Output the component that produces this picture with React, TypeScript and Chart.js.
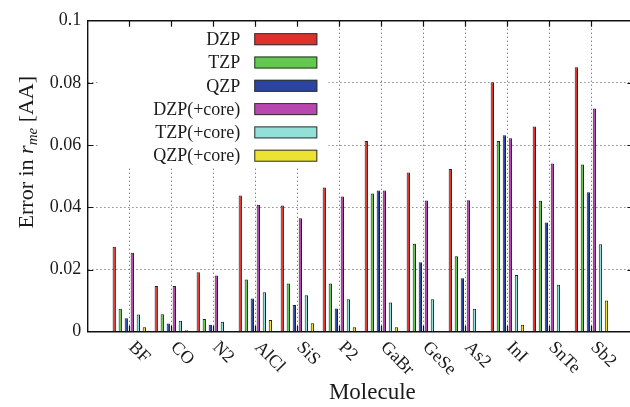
import React, { useEffect, useRef } from 'react';
import { Chart, registerables } from 'chart.js';
Chart.register(...registerables);

const molecules = ['BF', 'CO', 'N2', 'AlCl', 'SiS', 'P2', 'GaBr', 'GeSe', 'As2', 'InI', 'SnTe', 'Sb2'];
const seriesNames = ['DZP', 'TZP', 'QZP', 'DZP(+core)', 'TZP(+core)', 'QZP(+core)'];
const dzp = [0.0273, 0.0147, 0.0191, 0.0438, 0.0406, 0.0464, 0.0613, 0.0512, 0.0523, 0.0802, 0.066, 0.085];
const tzp = [0.0074, 0.0056, 0.0041, 0.0168, 0.0155, 0.0155, 0.0444, 0.0283, 0.0243, 0.0613, 0.0421, 0.0538];
const qzp = [0.0043, 0.0026, 0.0022, 0.0107, 0.0086, 0.0075, 0.0454, 0.0223, 0.0172, 0.0632, 0.0351, 0.0448];
const dzpCore = [0.0254, 0.0147, 0.0181, 0.0408, 0.0365, 0.0435, 0.0454, 0.0422, 0.0423, 0.0622, 0.0541, 0.0718];
const tzpCore = [0.0055, 0.0035, 0.0032, 0.0127, 0.0117, 0.0104, 0.0094, 0.0104, 0.0074, 0.0182, 0.0151, 0.0281];
const qzpCore = [0.0014, 0.0005, 0.0002, 0.0038, 0.0027, 0.0014, 0.0014, 0.0003, 0.0001, 0.0022, 0.0002, 0.01];
const yTicks = [0, 0.02, 0.04, 0.06, 0.08, 0.1];
const yTickLabels = ['0', '0.02', '0.04', '0.06', '0.08', '0.1'];
const colors = ['#e0302a', '#62c850', '#2a44a0', '#b848b0', '#92e0d8', '#ece232'];

const FONT = '"Liberation Serif", "DejaVu Serif", serif';

const overlay = {
  id: 'overlay',
  afterDatasetsDraw(chart: any) {
    const { ctx, chartArea: a, scales } = chart;
    const x = scales.x;
    const y = scales.y;
    ctx.save();
    // opaque legend background
    ctx.fillStyle = '#ffffff';
    ctx.fillRect(a.left + 12, a.top + 1, 241 - 12, 145);
    // legend entries
    ctx.font = `18px ${FONT}`;
    ctx.textAlign = 'right';
    ctx.textBaseline = 'middle';
    seriesNames.forEach((name, i) => {
      const cy = a.top + 18.5 + i * 23.3;
      ctx.fillStyle = '#1a1a1a';
      ctx.fillText(name, a.left + 153, cy + 1);
      ctx.fillStyle = colors[i];
      ctx.fillRect(a.left + 167, cy - 6, 63, 12);
      ctx.strokeStyle = '#333';
      ctx.lineWidth = 1;
      ctx.strokeRect(a.left + 167.5, cy - 5.5, 62, 11);
    });
    // inward tick marks
    ctx.strokeStyle = '#111';
    ctx.lineWidth = 1.2;
    ctx.beginPath();
    molecules.forEach((_, i) => {
      const px = Math.round(x.getPixelForValue(i + 1)) + 0.5;
      ctx.moveTo(px, a.top);
      ctx.lineTo(px, a.top + 6);
      ctx.moveTo(px, a.bottom);
      ctx.lineTo(px, a.bottom - 6);
    });
    yTicks.slice(1, -1).forEach((v) => {
      const py = Math.round(y.getPixelForValue(v)) + 0.5;
      ctx.moveTo(a.left, py);
      ctx.lineTo(a.left + 6, py);
      ctx.moveTo(a.right, py);
      ctx.lineTo(a.right - 6, py);
    });
    ctx.stroke();
    // top border
    ctx.lineWidth = 1.4;
    ctx.beginPath();
    ctx.moveTo(a.left, a.top);
    ctx.lineTo(a.right, a.top);
    ctx.stroke();
    // rotated category labels
    ctx.fillStyle = '#1a1a1a';
    ctx.font = `18px ${FONT}`;
    ctx.textAlign = 'left';
    ctx.textBaseline = 'middle';
    molecules.forEach((name, i) => {
      const px = x.getPixelForValue(i + 1);
      ctx.save();
      ctx.translate(px + 2, a.bottom + 13);
      ctx.rotate(Math.PI / 4);
      ctx.fillText(name, 0, 0);
      ctx.restore();
    });
    // x title
    ctx.font = `23px ${FONT}`;
    ctx.textAlign = 'center';
    ctx.textBaseline = 'alphabetic';
    ctx.fillText('Molecule', (a.left + a.right) / 2 + 12, a.bottom + 67);
    // y title with italic r_me
    ctx.save();
    ctx.translate(33, a.top + 131.5);
    ctx.rotate(-Math.PI / 2);
    const big = `22px ${FONT}`;
    const ital = `italic 22px ${FONT}`;
    const sub = `italic 15px ${FONT}`;
    const parts: [string, string, number][] = [
      ['Error in ', big, 0],
      ['r', ital, 0],
      ['me', sub, 4],
      [' [AA]', big, 0],
    ];
    let total = 0;
    parts.forEach(([t, f]) => {
      ctx.font = f;
      total += ctx.measureText(t).width;
    });
    let cx = -total / 2;
    ctx.textAlign = 'left';
    parts.forEach(([t, f, dy]) => {
      ctx.font = f;
      ctx.fillText(t, cx, dy);
      cx += ctx.measureText(t).width;
    });
    ctx.restore();
    ctx.restore();
  },
};

export default function App() {
  const ref = useRef<HTMLCanvasElement>(null);
  useEffect(() => {
    if (!ref.current) return;
    const labels = ['', ...molecules, ''];
    const pad = (arr: number[]) => [null, ...arr, null];
    const series = [dzp, tzp, qzp, dzpCore, tzpCore, qzpCore];
    const chart = new Chart(ref.current, {
      type: 'bar',
      data: {
        labels,
        datasets: series.map((s, i) => ({
          label: seriesNames[i],
          data: pad(s) as any,
          backgroundColor: colors[i],
          borderColor: '#222',
          borderWidth: 1,
          categoryPercentage: 0.86,
          barPercentage: 0.55,
        })),
      },
      options: {
        responsive: false,
        animation: false,
        devicePixelRatio: 1,
        layout: { padding: { left: 7.3, right: 6.6, top: 20.7, bottom: 0 } },
        plugins: { legend: { display: false }, tooltip: { enabled: false } },
        scales: {
          x: {
            type: 'category',
            offset: false,
            ticks: { display: false },
            grid: { offset: false, color: '#555', lineWidth: 1, drawTicks: false },
            border: { display: true, color: '#111', width: 1.4, dash: [1, 3] },
            afterFit: (s: any) => { s.height = 75.3; },
          },
          y: {
            min: 0,
            max: 0.1,
            ticks: {
              stepSize: 0.02,
              padding: 6,
              color: '#1a1a1a',
              font: { family: FONT, size: 18 },
              callback: (v: any) => {
                let best = 0;
                yTicks.forEach((t, i) => { if (Math.abs(t - v) < Math.abs(yTicks[best] - v)) best = i; });
                return yTickLabels[best];
              },
            },
            grid: { color: '#555', lineWidth: 1, drawTicks: false },
            border: { display: true, color: '#111', width: 1.4, dash: [1, 3] },
            afterFit: (s: any) => { s.width = 80; },
          },
        },
      },
      plugins: [overlay],
    });
    return () => chart.destroy();
  }, []);
  return (
    <div style={{ position: 'absolute', left: 0, top: 0, width: 630, height: 407, overflow: 'hidden', background: '#fff' }}>
      <canvas ref={ref} width={640} height={407} style={{ display: 'block' }} />
    </div>
  );
}
